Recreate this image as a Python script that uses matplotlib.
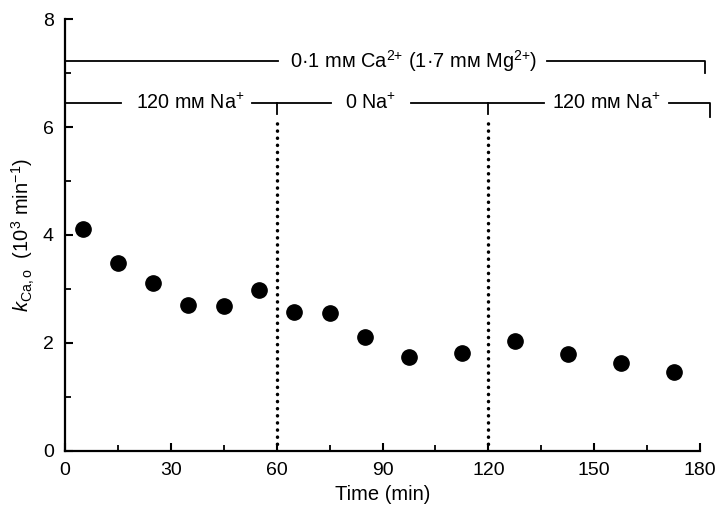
import numpy as np
import matplotlib
matplotlib.use("Agg")
import matplotlib.pyplot as plt
from matplotlib.ticker import MultipleLocator

plt.rcParams['font.family'] = ['Liberation Sans', 'DejaVu Sans']
plt.rcParams['mathtext.fontset'] = 'custom'
plt.rcParams['mathtext.rm'] = 'Liberation Sans'
plt.rcParams['mathtext.it'] = 'Liberation Sans:italic'

# data
time_min = [5, 15, 25, 35, 45, 55, 65, 75, 85, 97.5, 112.5, 127.5, 142.5, 157.5, 172.5]
k_ca = [4.12, 3.49, 3.11, 2.70, 2.69, 2.98, 2.57, 2.56, 2.11, 1.74, 1.81, 2.04, 1.80, 1.63, 1.46]

switch_times = [60, 120]
ca_label = "0·1 mм Ca$^{2{+}}$ (1·7 mм Mg$^{2{+}}$)"
na_labels = ["120 mм Na$^{{+}}$", "0 Na$^{{+}}$", "120 mм Na$^{{+}}$"]
na_centers = [35.5, 86.6, 153.4]

fig = plt.figure(figsize=(7.17, 5.07), dpi=100)
ax = fig.add_axes([0.0907, 0.1105, 0.8856, 0.852])

ax.plot(time_min, k_ca, 'o', color='black', markersize=11, zorder=5)

lw_b = 1.3
y_ca = 7.22
y_na = 6.44

# dotted dividers
for t in switch_times:
    ax.plot([t, t], [0, y_na - 0.28], color='black', lw=2.5,
            linestyle=(0, (0.05, 2.0)), dash_capstyle='round', zorder=3)
    ax.plot([t, t], [y_na, y_na - 0.2], color='black', lw=lw_b)

# Ca bracket
ax.plot([0, 60.5], [y_ca, y_ca], color='black', lw=lw_b, clip_on=False)
ax.plot([136.6, 181.5, 181.5], [y_ca, y_ca, y_ca - 0.22], color='black', lw=lw_b, clip_on=False)
ax.text(98.9, y_ca, ca_label, ha='center', va='center', fontsize=14.4)

# Na bracket
ax.plot([0, 16], [y_na, y_na], color='black', lw=lw_b, clip_on=False)
ax.plot([53.1, 75.3], [y_na, y_na], color='black', lw=lw_b)
ax.plot([98, 135.8], [y_na, y_na], color='black', lw=lw_b)
ax.plot([171.3, 182.7, 182.7], [y_na, y_na, y_na - 0.25],
        color='black', lw=lw_b, clip_on=False)
for lab, xc in zip(na_labels, na_centers):
    ax.text(xc, y_na, lab, ha='center', va='center', fontsize=14.2)

ax.set_xlim(0, 180)
ax.set_ylim(0, 8)
ax.spines['top'].set_visible(False)
ax.spines['right'].set_visible(False)
ax.spines['left'].set_linewidth(1.6)
ax.spines['bottom'].set_linewidth(1.6)

ax.xaxis.set_major_locator(MultipleLocator(30))
ax.xaxis.set_minor_locator(MultipleLocator(15))
ax.yaxis.set_major_locator(MultipleLocator(2))
ax.yaxis.set_minor_locator(MultipleLocator(1))
ax.tick_params(which='major', direction='in', length=6, width=1.5, labelsize=14, pad=8)
ax.tick_params(which='minor', direction='in', length=4, width=1.3)

ax.set_xlabel("Time (min)", fontsize=14.5, labelpad=4)
ax.set_ylabel("$k_{\\mathrm{Ca,o}}$  (10$^3$ min$^{-1}$)", fontsize=14.5, labelpad=4)

fig.savefig("out.png", dpi=100)
